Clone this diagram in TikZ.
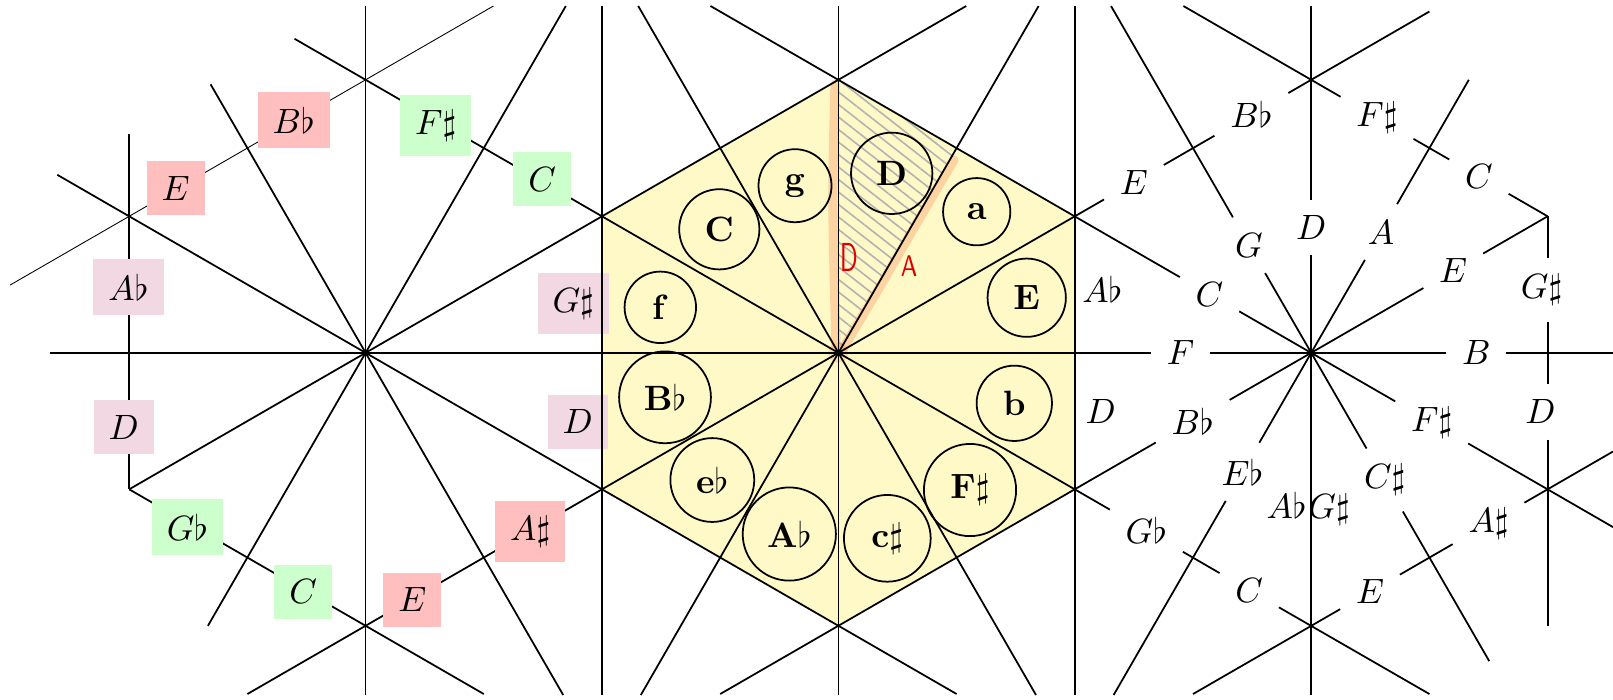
\documentclass[tikz,border=0pt]{standalone}
\usepackage{graphicx}
\usetikzlibrary{patterns.meta}
\definecolor{hexyellow}{RGB}{255,249,200}
\definecolor{boxred}{RGB}{255,191,191}
\definecolor{boxgreen}{RGB}{204,255,204}
\definecolor{boxpink}{RGB}{242,216,226}
\definecolor{hlorange}{RGB}{248,150,100}
\definecolor{pencil}{RGB}{222,0,0}
\begin{document}
\begin{tikzpicture}[x=0.01cm,y=-0.01cm,line width=0.5pt,
  lbl/.style={inner sep=0.15cm},
  rbox/.style={lbl,fill=boxred},
  gbox/.style={lbl,fill=boxgreen},
  pbox/.style={lbl,fill=boxpink},
  chord/.style={circle,draw,inner sep=0.15cm},
  faint/.style={line width=0.25pt},
  hl/.style={draw=hlorange,opacity=0.38,line width=2.6pt,line cap=round,line join=round},
  hand/.style={text=pencil,inner sep=0pt}]
\useasboundingbox (0,0) rectangle (1613,699);

% lattice points
\coordinate (Lc) at (365.6,352.8);
\coordinate (Mc) at (838.4,352.8);
\coordinate (Rc) at (1311.2,352.8);
\coordinate (Ltop) at (365.6,79.8);
\coordinate (Lul) at (129.2,216.3);
\coordinate (Lll) at (129.2,489.3);
\coordinate (Lbot) at (365.6,625.8);
\coordinate (Mul) at (602,216.3);
\coordinate (Mll) at (602,489.3);
\coordinate (Mtop) at (838.4,79.8);
\coordinate (Mbot) at (838.4,625.8);
\coordinate (Mur) at (1074.8,216.3);
\coordinate (Mlr) at (1074.8,489.3);
\coordinate (Rtop) at (1311.2,79.8);
\coordinate (Rbot) at (1311.2,625.8);
\coordinate (Rur) at (1547.6,216.3);
\coordinate (Rlr) at (1547.6,489.3);
\coordinate (Mmid) at (956.6,148.05);

% middle hexagon
\fill[hexyellow] (Mtop)--(Mur)--(Mlr)--(Mbot)--(Mll)--(Mul)--cycle;
\fill[pattern={Lines[angle=-38,distance=2.8pt,line width=0.45pt]},pattern color=gray!60]
  (Mc)--(Mtop)--(Mmid)--cycle;
\draw[hl] (835,84) .. controls (832,200) .. (836,346);
\draw[hl] (842,350) -- (878,290) -- (915,226) -- (954,160);
\fill[hlorange,opacity=0.28] (Mc) circle[radius=10];

% right labels (lines stop at their borders)
\node[lbl] (rF) at (1180.5,352.8) {$F$};
\node[lbl] (rB) at (1476.3,352.8) {$B$};
\node[lbl] (rE) at (1453.2,270.8) {$E$};
\node[lbl] (rA) at (1381,232) {$A$};
\node[lbl] (rD) at (1311.2,227.5) {$D$};
\node[lbl] (rG) at (1249,245.2) {$G$};
\node[lbl] (rC) at (1209.5,294.2) {$C$};
\node[lbl] (rBb) at (1192.7,421.2) {$B\flat$};
\node[lbl] (rEb) at (1242.5,471.8) {$E\flat$};
\node[lbl] (rCs) at (1384.7,480) {$C\sharp$};
\node[lbl] (rFs) at (1431.7,422.4) {$F\sharp$};
\node[lbl] (eE1) at (1133.9,182.2) {$E$};
\node[lbl] (eBb) at (1251.4,114.4) {$B\flat$};
\node[lbl] (eFs) at (1377,117.8) {$F\sharp$};
\node[lbl] (eC1) at (1478.9,176.6) {$C$};
\node[lbl] (eGs) at (1541.5,290) {$G\sharp$};
\node[lbl] (eD) at (1540.5,411.7) {$D$};
\node[lbl] (eGb) at (1146.3,530.6) {$G\flat$};
\node[lbl] (eC2) at (1249.2,590.2) {$C$};
\node[lbl] (eE2) at (1370,591.9) {$E$};
\node[lbl] (eAs) at (1488.5,523.4) {$A\sharp$};
\node[lbl] (fAb) at (1102.3,289.5) {$A\flat$};
\node[lbl] (fD) at (1100.6,411.7) {$D$};
\node[inner sep=0pt,anchor=base east] (sAb) at (1307.5,518) {$A\flat$};
\node[inner sep=0pt,anchor=base west] (sGs) at (1307.5,518) {$G\sharp$};

% horizontal through the centres
\draw (50,352.8) -- (rF);
\draw (rF) -- (rB);
\draw (rB) -- (1613,352.8);
% verticals
\foreach \x in {365.6,838.4,1074.8} \draw (\x,6) -- (\x,695);
\draw (129.2,134) -- (Lll);
\draw (1311.2,6) -- (rD);
\draw (rD) -- (1311.2,695);
\draw (Rur) -- (Rur |- eGs.north);
\draw (Rur |- eGs.south) -- (Rur |- eD.north);
\draw (Rur |- eD.south) -- (1547.6,625.8);
% slanted lines
\draw (Lll) -- (Mtop) -- (966.2,6);
\draw[faint] (10,285.1) -- (493.4,6);
\draw (247.4,694) -- (Mur) -- (eE1);
\draw (eE1) -- (eBb);
\draw (eBb) -- (Rtop) -- (1429.4,11.5);
\draw (720.2,694) -- (rBb);
\draw (rBb) -- (rE);
\draw (rE) -- (Rur);
\draw (1193,694) -- (eE2);
\draw (eE2) -- (eAs);
\draw (eAs) -- (1613,451.5);
\draw (710.5,6) -- (rC);
\draw (rC) -- (rFs);
\draw (rFs) -- (1613,527.1);
\draw (57.3,174.8) -- (956.6,694);
\draw (294.6,38.8) -- (eGb);
\draw (eGb) -- (eC2);
\draw (eC2) -- (1429.4,694);
\draw (Lll) -- (483.8,694);
\draw (1183.4,6) -- (eFs);
\draw (eFs) -- (eC1);
\draw (eC1) -- (Rur);
% spokes
\draw (Lc) -- (565.8,6);
\draw (Lc) -- (210.6,84.3);
\draw (Lc) -- (207.9,625.8);
\draw (Lc) -- (563.2,695);
\draw (Mc) -- (1038.6,6);
\draw (Mc) -- (638.2,6);
\draw (Mc) -- (640.8,695);
\draw (Mc) -- (1036,695);
\draw (Rc) -- (rA);
\draw (rA) -- (1468.8,79.8);
\draw (1111,6) -- (rG);
\draw (rG) -- (Rc);
\draw (Rc) -- (rEb);
\draw (rEb) -- (1113.6,695);
\draw (Rc) -- (rCs);
\draw (rCs) -- (1489.2,661.1);

% left coloured labels
\node[rbox] (bE1) at (175.5,188.3) {$E$};
\node[rbox] (bBb) at (293.7,120) {$B\flat$};
\node[gbox] (bFs) at (435.8,125.3) {$F\sharp$};
\node[gbox] (bC1) at (542.3,179.2) {$C$};
\node[pbox] (bAb) at (128.5,287.2) {$A\flat$};
\node[pbox] (bD1) at (123.7,427) {$D$};
\node[pbox] (bGs) at (573.2,303.3) {$G\sharp$};
\node[pbox] (bD2) at (577.7,421.7) {$D$};
\node[gbox] (bGb) at (187.5,527) {$G\flat$};
\node[gbox] (bC2) at (303.3,591.7) {$C$};
\node[rbox] (bE2) at (412.3,599.7) {$E$};
\node[rbox] (bAs) at (530.2,531.3) {$A\sharp$};
\draw (602,6) -- (602,695);

% chord circles
\node[chord] (cD) at (891.7,173.3) {$\mathbf{D}$};
\node[chord] (ca) at (976.7,211.7) {$\mathbf{a}$};
\node[chord] (cE) at (1026.7,297.7) {$\mathbf{E}$};
\node[chord] (cb) at (1014.3,403.3) {$\mathbf{b}$};
\node[chord] (cFs) at (970,490) {$\mathbf{F}\sharp$};
\node[chord] (ccs) at (887.3,538.3) {$\mathbf{c}\sharp$};
\node[chord] (cAb) at (789.3,534) {$\mathbf{A}\flat$};
\node[chord] (ceb) at (712.3,480) {$\mathbf{e}\flat$};
\node[chord] (cBb) at (665,397.3) {$\mathbf{B}\flat$};
\node[chord] (cf) at (660.3,307.3) {$\mathbf{f}$};
\node[chord] (cC) at (719.3,229.3) {$\mathbf{C}$};
\node[chord] (cg) at (795,185.7) {$\mathbf{g}$};

% handwritten marks
\node[hand,font=\sffamily\fontsize{11.5}{13}\selectfont] (hD) at (849,257.5) {\scalebox{0.62}[1]{D}};
\node[hand,font=\sffamily\fontsize{8.5}{10}\selectfont] (hA) at (909,265.8) {\scalebox{0.8}[1]{A}};
\end{tikzpicture}
\end{document}
